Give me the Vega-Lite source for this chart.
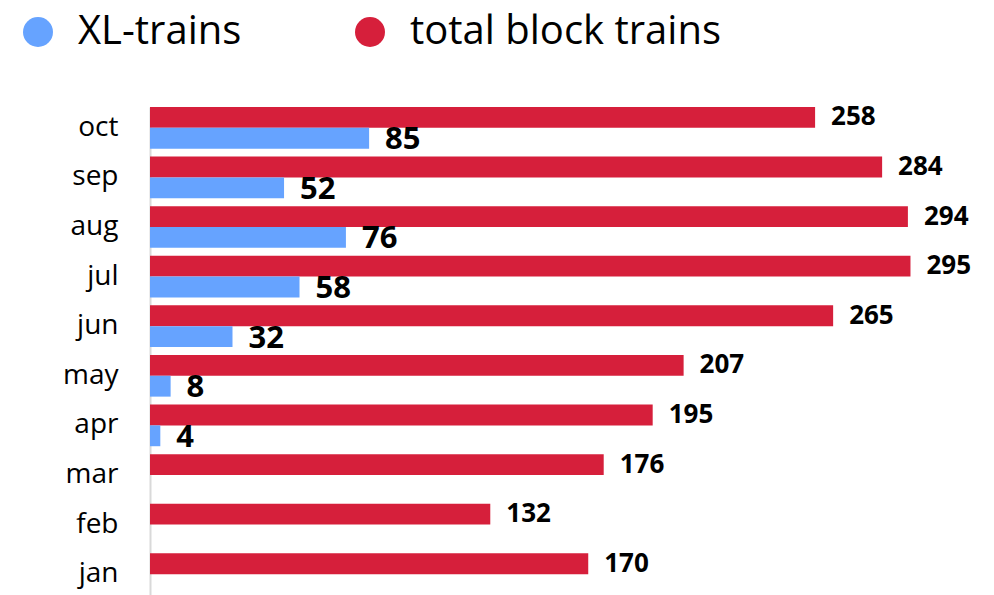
{
  "$schema": "https://vega.github.io/schema/vega-lite/v6.json",
  "width": 844,
  "height": 488,
  "autosize": {"type": "none"},
  "padding": {"left": 150, "top": 107, "right": 0, "bottom": 0},
  "background": "white",
  "config": {"view": {"stroke": null}, "font": "Open Sans"},
  "data": {
    "values": [
      {"month": "jan", "series": "total block trains", "value": 170},
      {"month": "feb", "series": "total block trains", "value": 132},
      {"month": "mar", "series": "total block trains", "value": 176},
      {"month": "apr", "series": "total block trains", "value": 195},
      {"month": "may", "series": "total block trains", "value": 207},
      {"month": "jun", "series": "total block trains", "value": 265},
      {"month": "jul", "series": "total block trains", "value": 295},
      {"month": "aug", "series": "total block trains", "value": 294},
      {"month": "sep", "series": "total block trains", "value": 284},
      {"month": "oct", "series": "total block trains", "value": 258},
      {"month": "apr", "series": "XL-trains", "value": 4},
      {"month": "may", "series": "XL-trains", "value": 8},
      {"month": "jun", "series": "XL-trains", "value": 32},
      {"month": "jul", "series": "XL-trains", "value": 58},
      {"month": "aug", "series": "XL-trains", "value": 76},
      {"month": "sep", "series": "XL-trains", "value": 52},
      {"month": "oct", "series": "XL-trains", "value": 85}
    ]
  },
  "encoding": {
    "y": {
      "field": "month",
      "type": "nominal",
      "sort": ["oct", "sep", "aug", "jul", "jun", "may", "apr", "mar", "feb", "jan"],
      "scale": {"paddingInner": 0.16, "paddingOuter": 0},
      "axis": {
        "title": null,
        "ticks": false,
        "grid": false,
        "domainColor": "#D9D9D9",
        "domainWidth": 2,
        "labelFont": "Open Sans",
        "labelFontSize": 28,
        "labelColor": "#000000",
        "labelPadding": 32
      }
    },
    "yOffset": {
      "field": "series",
      "type": "nominal",
      "scale": {"domain": ["total block trains", "XL-trains"], "paddingInner": 0, "paddingOuter": 0}
    },
    "x": {
      "field": "value",
      "type": "quantitative",
      "scale": {"domain": [0, 327.4], "nice": false, "zero": true},
      "axis": null
    }
  },
  "layer": [
    {
      "mark": {"type": "bar"},
      "encoding": {
        "color": {
          "field": "series",
          "type": "nominal",
          "scale": {"domain": ["XL-trains", "total block trains"], "range": ["#66A3FF", "#D61F3B"]},
          "legend": {
            "orient": "none",
            "legendX": -132,
            "legendY": -95,
            "direction": "horizontal",
            "title": null,
            "symbolType": "circle",
            "symbolSize": 900,
            "symbolStrokeWidth": 0,
            "symbolOpacity": 1,
            "labelFont": "Open Sans",
            "labelFontSize": 40,
            "labelColor": "#000000",
            "labelOffset": 20,
            "labelLimit": 600,
            "columnPadding": 108,
            "padding": 0
          }
        }
      }
    },
    {
      "transform": [{"filter": "datum.series === 'total block trains'"}],
      "mark": {"type": "text", "align": "left", "baseline": "middle", "dx": 16, "fontWeight": "bold", "font": "Open Sans", "fontSize": 26, "color": "#000000"},
      "encoding": {
        "text": {"field": "value", "type": "quantitative"}
      }
    },
    {
      "transform": [{"filter": "datum.series === 'XL-trains'"}],
      "mark": {"type": "text", "align": "left", "baseline": "middle", "dx": 16, "dy": 2, "fontWeight": "bold", "font": "Open Sans", "fontSize": 31, "color": "#000000"},
      "encoding": {
        "text": {"field": "value", "type": "quantitative"}
      }
    }
  ]
}
